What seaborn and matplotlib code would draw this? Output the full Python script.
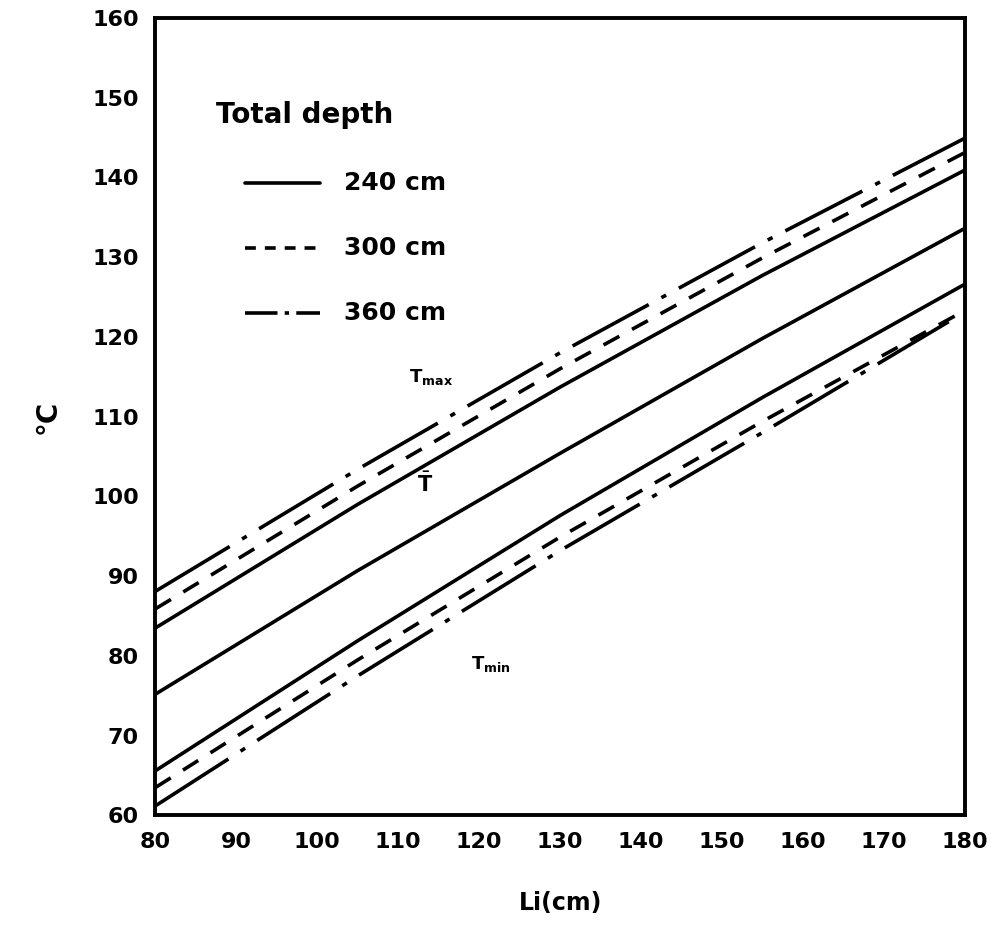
import numpy as np
import pandas as pd
import matplotlib
matplotlib.use("Agg")
import matplotlib.pyplot as plt
import seaborn as sns

# values (degC) at Li = 80, 105, 130, 155, 180 cm
li = [80, 105, 130, 155, 180]

tmax_240 = [83.5, 99.0, 113.7, 127.7, 140.9]
tmax_300 = [85.9, 101.3, 116.0, 129.9, 143.1]
tmax_360 = [88.1, 103.4, 118.0, 131.8, 144.9]

tmean = [75.2, 90.7, 105.4, 119.8, 133.6]

tmin_240 = [65.6, 81.9, 97.6, 112.4, 126.6]
tmin_300 = [63.5, 79.5, 94.9, 109.4, 123.3]
li_360 = [80, 105, 130, 155, 178]
tmin_360 = [61.2, 77.5, 93.2, 108.0, 121.9]

depth_labels = ['240 cm', '300 cm', '360 cm']

sns.set_style("white")
plt.rcParams['font.family'] = ['DejaVu Sans']
plt.rcParams['text.color'] = 'black'
plt.rcParams['xtick.color'] = 'black'
plt.rcParams['ytick.color'] = 'black'
plt.rcParams['axes.labelcolor'] = 'black'

fig = plt.figure(figsize=(10.03, 9.34), dpi=100)
ax = fig.add_axes([0.155, 0.127, 0.807, 0.854])

solid = dict(color='black', lw=2.6)
dashed = dict(color='black', lw=2.6, dashes=(5, 4))
dashdot = dict(color='black', lw=2.6, dashes=(24, 4, 1.5, 4))

sns.lineplot(x=li, y=tmax_240, ax=ax, **solid)
sns.lineplot(x=li, y=tmax_300, ax=ax, **dashed)
sns.lineplot(x=li, y=tmax_360, ax=ax, **dashdot)
sns.lineplot(x=li, y=tmean, ax=ax, **solid)
sns.lineplot(x=li, y=tmin_240, ax=ax, **solid)
sns.lineplot(x=li, y=tmin_300, ax=ax, **dashed)
sns.lineplot(x=li_360, y=tmin_360, ax=ax, **dashdot)

ax.set_xlim(80, 180)
ax.set_ylim(60, 160)
ax.set_xticks(range(80, 181, 10))
ax.set_yticks(range(60, 161, 10))
ax.tick_params(length=0, labelsize=16, pad=12)
for lab in ax.get_xticklabels() + ax.get_yticklabels():
    lab.set_fontweight('bold')
for s in ax.spines.values():
    s.set_linewidth(2.8)
    s.set_color('black')

ax.set_xlabel('Li(cm)', fontsize=17, fontweight='bold', labelpad=28)
ax.set_ylabel('°C', fontsize=20, fontweight='bold', labelpad=22)

# legend drawn by hand, like the original
ax.text(87.5, 147.8, 'Total depth', fontsize=20, fontweight='bold', va='center')
leg_styles = [dict(color='black', lw=2.6),
              dict(color='black', lw=2.6, dashes=(3, 2.5)),
              dict(color='black', lw=2.6, dashes=(9, 2, 1.2, 2))]
for i, (st, lab) in enumerate(zip(leg_styles, depth_labels)):
    yy = 139.3 - 8.15 * i
    ax.plot([91.0, 100.3], [yy, yy], **st)
    ax.text(103.3, yy, lab, fontsize=18, fontweight='bold', va='center')

ax.text(111.3, 115.0, r'T$_{\mathregular{max}}$', fontsize=13, fontweight='bold', va='center')
ax.text(112.3, 101.5, r'$\bar{\mathbf{T}}$', fontsize=15, va='center')
ax.text(119.0, 79.0, r'T$_{\mathregular{min}}$', fontsize=13, fontweight='bold', va='center')

fig.savefig('out.png', dpi=100)
